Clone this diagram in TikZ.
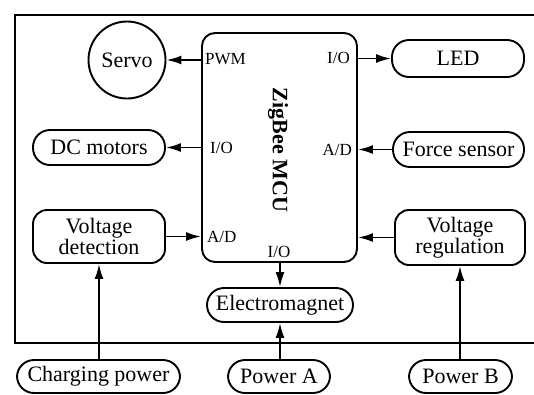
\documentclass[tikz,border=0pt]{standalone}
\usepackage{fontspec}
\setmainfont{Liberation Serif}
\usetikzlibrary{arrows.meta}
\begin{document}
\begin{tikzpicture}[x=1pt,y=-1pt,
  box/.style={draw,line width=1.9pt,rounded corners=17pt,inner sep=0pt,align=center,
    font=\fontsize{22}{23}\selectfont},
  tallbox/.style={box,rounded corners=14pt},
  lbl/.style={inner sep=0pt,font=\fontsize{17}{18}\selectfont},
  arr/.style={line width=1.9pt,-{Latex[length=15pt,width=9pt]}}]
\useasboundingbox (0,0) rectangle (534,394);
\draw[line width=2.4pt] (545,15) -- (15,15) -- (15,343) -- (545,343);
\node[draw,line width=1.9pt,rounded corners=13pt,minimum width=155pt,minimum height=229pt] (mcu) at (279.5,147.5) {};
\node[rotate=-90,inner sep=0pt,font=\fontsize{22}{23}\selectfont\bfseries] (mcut) at (278,150) {ZigBee MCU};
\node[draw,circle,line width=1.9pt,minimum size=77pt,inner sep=0pt,font=\fontsize{22}{23}\selectfont] (servo) at (127,60) {Servo};
\node[box,minimum width=132pt,minimum height=35pt] (dc) at (99,147.5) {DC motors};
\node[box,minimum width=132pt,minimum height=37pt] (led) at (458,58.5) {LED};
\node[box,minimum width=131pt,minimum height=35pt] (force) at (458.5,149.5) {Force sensor};
\node[tallbox,minimum width=132pt,minimum height=53pt] (vdet) at (99,236.5) {Voltage\\[-2pt]detection};
\node[tallbox,minimum width=130pt,minimum height=55pt] (vreg) at (460,237.5) {Voltage\\[-2pt]regulation};
\node[box,minimum width=146pt,minimum height=34pt] (elec) at (280,305) {Electromagnet};
\node[box,minimum width=163pt,minimum height=33pt] (chg) at (98.5,376.5) {Charging power};
\node[box,minimum width=102pt,minimum height=33pt] (pa) at (279,376.5) {Power A};
\node[box,minimum width=103pt,minimum height=33pt] (pb) at (460.5,376.5) {Power B};
\node[lbl,anchor=west] (lpwm) at (205,59) {PWM};
\node[lbl,anchor=west] (lio1) at (210,148) {I/O};
\node[lbl,anchor=west] (lad1) at (207,237) {A/D};
\node[lbl,anchor=east] (lio2) at (350,58) {I/O};
\node[lbl,anchor=east] (lad2) at (352,150) {A/D};
\node[lbl] (lio3) at (279,252) {I/O};
\draw[arr] (mcu.west |- servo.east) -- (servo.east);
\draw[arr] (mcu.west |- dc.east) -- (dc.east);
\draw[arr] (vdet.east) -- (mcu.west |- vdet.east);
\draw[arr] (mcu.east |- led.west) -- (led.west);
\draw[arr] (force.west) -- (mcu.east |- force.west);
\draw[arr] (vreg.west) -- (mcu.east |- vreg.west);
\draw[arr] (mcu.south -| elec.north) -- (elec.north);
\draw[arr] (pa.north -| elec.south) -- (elec.south);
\draw[arr] (chg.north -| vdet.south) -- (vdet.south);
\draw[arr] (pb.north -| vreg.south) -- (vreg.south);
\end{tikzpicture}
\end{document}
